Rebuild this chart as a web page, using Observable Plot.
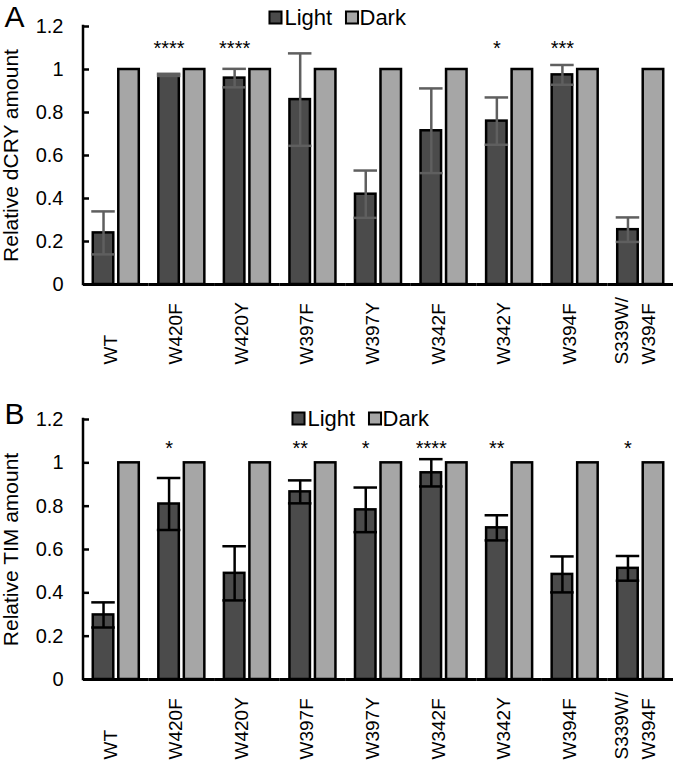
<!DOCTYPE html>
<html><head><meta charset="utf-8">
<script src="https://cdn.jsdelivr.net/npm/d3@7"></script>
<script src="https://cdn.jsdelivr.net/npm/@observablehq/plot@0.6"></script>
<style>
body{margin:0;background:#fff;font-family:"Liberation Sans",Arial,sans-serif;}
#chart{width:677px;}
#chart svg{display:block;}
</style></head><body><div id="chart"></div>
<script>
// ---- data ----
const categories = ["WT","W420F","W420Y","W397F","W397Y","W342F","W342Y","W394F","S339W/\nW394F"];
const series = ["Light","Dark"];
const yTicks = [0,0.2,0.4,0.6,0.8,1,1.2];

// Panel A: relative dCRY amount
const cryLight    = [0.24, 0.975, 0.96, 0.86, 0.42, 0.715, 0.76, 0.975, 0.255];
const cryLightErr = [0.10, 0.005, 0.043, 0.215, 0.11, 0.197, 0.11, 0.046, 0.057];
const cryDark     = [1, 1, 1, 1, 1, 1, 1, 1, 1];
const crySig      = ["", "****", "****", "", "", "", "*", "***", ""];

// Panel B: relative TIM amount
const timLight    = [0.298, 0.81, 0.49, 0.866, 0.783, 0.954, 0.70, 0.485, 0.513];
const timLightErr = [0.058, 0.12, 0.125, 0.053, 0.103, 0.063, 0.058, 0.083, 0.057];
const timDark     = [1, 1, 1, 1, 1, 1, 1, 1, 1];
const timSig      = ["", "*", "", "**", "*", "****", "**", "", "*"];

const FONT = "'Liberation Sans', Arial, sans-serif";
const LIGHT_FILL = "#4b4b4b", DARK_FILL = "#a6a6a6";
const W = 677, ML = 83, MR = 4;

function panel(o) {
  const bars = categories.flatMap((c, i) => [
    {cat: c, series: "Light", value: o.light[i]},
    {cat: c, series: "Dark", value: o.dark[i]}
  ]);
  const errs = categories.map((c, i) => ({cat: c, series: "Light", lo: o.light[i] - o.err[i], hi: o.light[i] + o.err[i]}));
  const stars = categories.map((c, i) => ({cat: c, series: "Light", text: o.sig[i]})).filter(d => d.text);
  const first = categories[0];
  const one = (extra) => [{fx: first, ...extra}];
  const lx = o.legendDx, ly = o.legendDy;
  const svg = Plot.plot({
    width: W, height: o.height,
    marginTop: o.marginTop, marginBottom: o.marginBottom, marginLeft: ML, marginRight: MR,
    style: {fontFamily: FONT, fontSize: "20px", background: "#fff", color: "#000", overflow: "visible"},
    fx: {domain: categories, padding: 0, round: false, label: null},
    x: {domain: series, paddingInner: 0.196, paddingOuter: 0.383, round: false, axis: null},
    y: {domain: [0, 1.2], label: null},
    color: {domain: series, range: [LIGHT_FILL, DARK_FILL]},
    marks: [
      Plot.barY(bars, {fx: "cat", x: "series", y: "value", fill: "series", stroke: "#000", strokeWidth: 2.5}),
      Plot.ruleY([0], {stroke: "#000", strokeWidth: 3}),
      Plot.ruleX(errs, {fx: "cat", x: "series", y1: "lo", y2: "hi", stroke: o.errColor, strokeWidth: 2.5}),
      Plot.tickY(errs, {fx: "cat", x: "series", y: "lo", stroke: o.errColor, strokeWidth: 2.5, inset: -1.5}),
      Plot.tickY(errs, {fx: "cat", x: "series", y: "hi", stroke: o.errColor, strokeWidth: 2.5, inset: -1.5}),
      Plot.text(stars, {fx: "cat", x: "series", y: () => o.starY, text: "text", fontSize: 20, fill: "#000"}),
      Plot.axisY({ticks: yTicks, tickFormat: d => String(+d.toFixed(1)), tickSize: -6, tickPadding: 26,
                  strokeWidth: 2.5, fontSize: 20, label: null}),
      Plot.axisFx({anchor: "bottom", tickSize: 0, tickRotate: -90, textAnchor: "start", tickPadding: 80,
                   fontSize: 19, lineHeight: 1.4, dx: -8, label: null}),
      // y title
      Plot.text(one({t: o.yLabel}), {fx: "fx", text: "t", frameAnchor: "left", rotate: -90, dx: -72,
                  textAnchor: "middle", lineAnchor: "middle", fontSize: 21, fill: "#000"}),
      // panel letter
      Plot.text(one({t: o.letter}), {fx: "fx", text: "t", frameAnchor: "top-left", dx: -79, dy: o.letterDy,
                  textAnchor: "start", lineAnchor: "bottom", fontSize: 30, fill: "#000"}),
      // legend
      Plot.dot(one({s: "Light"}), {fx: "fx", frameAnchor: "top-left", dx: lx, dy: ly, symbol: "square", r: 6.8,
                  fill: LIGHT_FILL, stroke: "#000", strokeWidth: 2}),
      Plot.text(one({t: "Light"}), {fx: "fx", text: "t", frameAnchor: "top-left", dx: lx + 9, dy: ly,
                  textAnchor: "start", lineAnchor: "middle", fontSize: 22, fill: "#000"}),
      Plot.dot(one({s: "Dark"}), {fx: "fx", frameAnchor: "top-left", dx: lx + 76.5, dy: ly, symbol: "square", r: 6.8,
                  fill: DARK_FILL, stroke: "#000", strokeWidth: 2}),
      Plot.text(one({t: "Dark"}), {fx: "fx", text: "t", frameAnchor: "top-left", dx: lx + 84, dy: ly,
                  textAnchor: "start", lineAnchor: "middle", fontSize: 22, fill: "#000"})
    ]
  });
  // y-axis line along the frame's left edge, positioned with the plot's own y scale
  const ys = svg.scale("y");
  const [y0, y1] = [ys.apply(yTicks[0]), ys.apply(yTicks[yTicks.length - 1])];
  d3.select(svg).append("line")
    .attr("x1", ML).attr("x2", ML).attr("y1", y0).attr("y2", y1)
    .attr("stroke", "#000").attr("stroke-width", 2.5).attr("stroke-linecap", "square");
  return svg;
}

const chart = document.getElementById("chart");
chart.append(panel({
  letter: "A", yLabel: "Relative dCRY amount", light: cryLight, err: cryLightErr, dark: cryDark, sig: crySig,
  errColor: "#5f5f5f", height: 371, marginTop: 26, marginBottom: 87, starY: 1.095,
  legendDx: 192, legendDy: -9, letterDy: 0
}));
chart.append(panel({
  letter: "B", yLabel: "Relative TIM amount", light: timLight, err: timLightErr, dark: timDark, sig: timSig,
  errColor: "#000", height: 394, marginTop: 48, marginBottom: 86, starY: 1.065,
  legendDx: 215, legendDy: -1, letterDy: 4
}));
</script></body></html>
